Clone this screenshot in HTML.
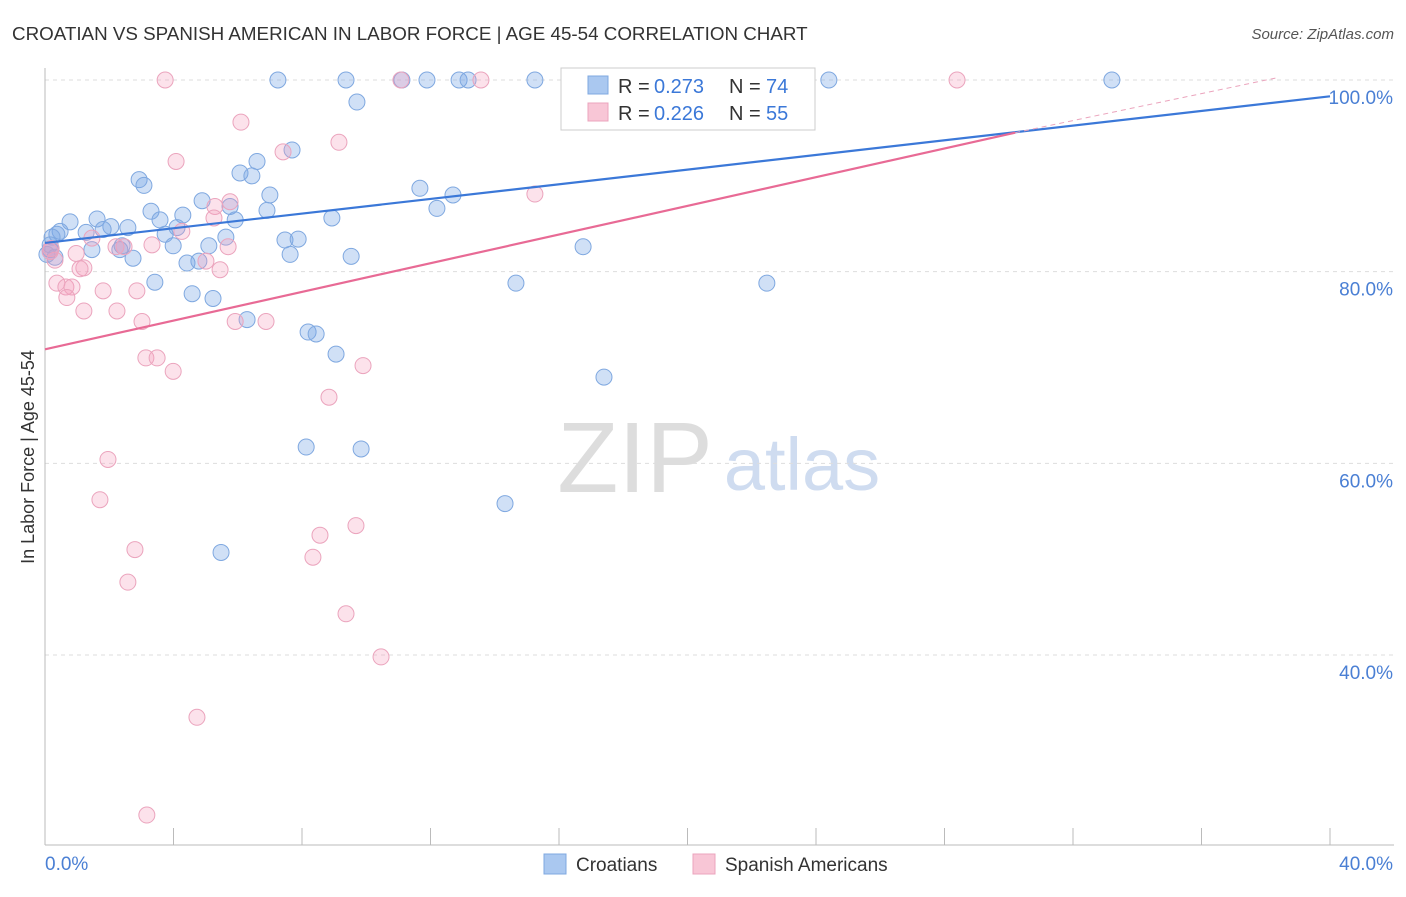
<!DOCTYPE html>
<html><head><meta charset="utf-8"><style>
body{margin:0;background:#fff;font-family:"Liberation Sans",sans-serif;}
svg text{font-family:"Liberation Sans",sans-serif;}
</style></head><body>
<svg id="c" width="1406" height="892" xmlns="http://www.w3.org/2000/svg">
<text x="12" y="40" font-size="18.8" fill="#333">CROATIAN VS SPANISH AMERICAN IN LABOR FORCE | AGE 45-54 CORRELATION CHART</text>
<text x="1394" y="39" font-size="15" fill="#555" text-anchor="end" font-style="italic">Source: ZipAtlas.com</text>
<text x="635" y="492" font-size="100" fill="#ddd" font-family="Liberation Serif" text-anchor="middle">ZIP</text>
<text x="802" y="490" font-size="74" fill="#cfdcf0" text-anchor="middle">atlas</text>
<text transform="translate(34,457) rotate(-90)" font-size="18" fill="#333" text-anchor="middle">In Labor Force | Age 45-54</text>
<g id="grid"></g><g id="pts"></g><g id="lines"></g>
<g>
<rect x="561" y="68" width="254" height="62" fill="#fff" stroke="#ccc"/>
<rect x="588" y="76" width="20" height="18" fill="#aac8f0" stroke="#7fa8e0"/>
<text x="618" y="93" font-size="20" fill="#333">R =</text><text x="654" y="93" font-size="20" fill="#3b78d8">0.273</text>
<text x="729" y="93" font-size="20" fill="#333">N =</text><text x="766" y="93" font-size="20" fill="#3b78d8">74</text>
<rect x="588" y="103" width="20" height="18" fill="#f8c6d6" stroke="#eba4bd"/>
<text x="618" y="120" font-size="20" fill="#333">R =</text><text x="654" y="120" font-size="20" fill="#3b78d8">0.226</text>
<text x="729" y="120" font-size="20" fill="#333">N =</text><text x="766" y="120" font-size="20" fill="#3b78d8">55</text>
</g>
<g>
<rect x="544" y="854" width="22" height="20" fill="#aac8f0" stroke="#7fa8e0"/>
<text x="576" y="871" font-size="19" fill="#333">Croatians</text>
<rect x="693" y="854" width="22" height="20" fill="#f8c6d6" stroke="#eba4bd"/>
<text x="725" y="871" font-size="19" fill="#333">Spanish Americans</text>
</g>
<text x="45" y="870" font-size="19" fill="#4a7fd4">0.0%</text>
<text x="1393" y="870" font-size="19" fill="#4a7fd4" text-anchor="end">40.0%</text>
</svg>
<script>
const yTicks=[100,80,60,40];
const yTickLabels=["100.0%","80.0%","60.0%","40.0%"];
const blueX=[7.25,9.37,11.11,11.89,12.89,13.17,15.25,22.26,24.4,33.21,9.71,7.69,6.6,2.93,3.08,6.07,6.44,7.0,11.67,12.7,12.2,4.89,3.3,3.58,4.29,5.76,5.92,6.91,8.93,1.62,0.78,2.05,2.58,1.81,1.28,0.47,0.37,0.22,3.74,4.11,3.99,5.1,5.63,7.47,7.88,16.75,1.46,2.33,2.4,0.16,0.31,2.74,7.63,9.53,4.42,4.79,3.42,14.66,22.47,4.58,5.23,6.29,8.19,8.44,9.06,17.4,8.13,9.84,14.32,5.48,0.16,0.06];
const blueY=[100,100,100,100,100,100,100,100,100,100,97.7,92.7,91.5,89.6,89.0,90.3,90.0,88.0,88.7,88.0,86.6,87.4,86.3,85.4,85.9,86.8,85.4,86.4,85.6,85.5,85.2,84.7,84.6,84.4,84.1,84.2,83.9,83.6,83.9,84.6,82.7,82.7,83.6,83.3,83.4,82.6,82.3,82.3,82.7,82.3,81.5,81.4,81.8,81.6,80.9,81.1,78.9,78.8,78.8,77.7,77.2,75.0,73.7,73.5,71.4,69.0,61.7,61.5,55.8,50.7,82.8,81.8];
const pinkX=[3.74,11.08,13.57,17.84,28.39,6.1,9.15,4.08,7.41,15.25,5.29,5.26,4.26,3.33,2.46,5.7,2.21,1.46,0.97,0.16,0.31,1.21,1.09,5.01,5.45,0.37,0.65,0.84,0.68,1.81,2.86,1.21,2.24,3.02,5.92,6.88,3.14,3.49,3.99,9.9,8.84,1.96,1.71,9.68,8.56,2.8,8.34,2.58,9.37,10.46,4.73,3.17,0.19,5.76];
const pinkY=[100,100,100,100,100,95.6,93.5,91.5,92.5,88.1,86.8,85.6,84.2,82.8,82.6,82.6,82.6,83.5,81.9,82.1,81.2,80.4,80.3,81.1,80.2,78.8,78.4,78.4,77.3,78.0,78.0,75.9,75.9,74.8,74.8,74.8,71.0,71.0,69.6,70.2,66.9,60.4,56.2,53.5,52.5,51.0,50.2,47.6,44.3,39.8,33.5,23.3,82.4,87.3];
const blueLine=[[0,83.0],[40,98.3]];
const pinkLine=[[0,71.9],[30.2,94.5]];
const pinkDash=[[30.2,94.5],[38.3,100.2]];
const sx=v=>45+v*32.125, sy=v=>80+(100-v)*9.583;
const NS="http://www.w3.org/2000/svg";
function mk(t,a,p){const e=document.createElementNS(NS,t);for(const k in a)e.setAttribute(k,a[k]);p.appendChild(e);return e;}
const g=document.getElementById('grid');
yTicks.forEach((t,i)=>{
 const l=mk('line',{x1:45,x2:1394,y1:sy(t),y2:sy(t),stroke:'#ddd','stroke-dasharray':'4,4'},g);
 
 
 const tx=mk('text',{x:1393,y:sy(t)+24,'font-size':19,fill:'#4a7fd4','text-anchor':'end'},g);
 tx.textContent=yTickLabels[i];
 
 
});
mk('line',{x1:45,x2:45,y1:68,y2:845,stroke:'#bbb'},g);
mk('line',{x1:45,x2:1394,y1:845,y2:845,stroke:'#bbb'},g);
for(let k=1;k<=10;k++){const t=mk('line',{x1:sx(k*4),x2:sx(k*4),y1:828,y2:845,stroke:'#bbb'},g);
 
 }
const p=document.getElementById('pts');
blueX.forEach((x,i)=>{const c=mk('circle',{cx:sx(x),cy:sy(blueY[i]),r:8,fill:'rgba(120,165,230,0.35)',stroke:'#7fa8e0','stroke-width':1},p);
 
 });
pinkX.forEach((x,i)=>{const c=mk('circle',{cx:sx(x),cy:sy(pinkY[i]),r:8,fill:'rgba(245,160,190,0.3)',stroke:'#eba4bd','stroke-width':1},p);
 
 });
const L=document.getElementById('lines');
const bl=mk('line',{x1:sx(blueLine[0][0]),y1:sy(blueLine[0][1]),x2:sx(blueLine[1][0]),y2:sy(blueLine[1][1]),stroke:'#3b78d8','stroke-width':2.2},L);


const pl=mk('line',{x1:sx(pinkLine[0][0]),y1:sy(pinkLine[0][1]),x2:sx(pinkLine[1][0]),y2:sy(pinkLine[1][1]),stroke:'#e86a95','stroke-width':2.2},L);


const pd=mk('line',{x1:sx(pinkDash[0][0]),y1:sy(pinkDash[0][1]),x2:sx(pinkDash[1][0]),y2:sy(pinkDash[1][1]),stroke:'#eba4bd','stroke-width':1,'stroke-dasharray':'5,4'},L);


</script>
</body></html>
